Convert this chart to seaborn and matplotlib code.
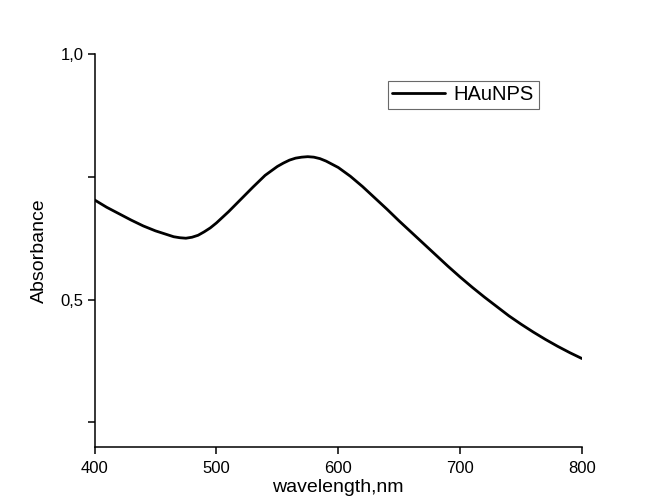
import matplotlib
matplotlib.use("Agg")
import matplotlib.pyplot as plt
import seaborn as sns
import pandas as pd
from matplotlib.ticker import FixedLocator, FuncFormatter

wavelength = [400, 410, 420, 430, 440, 450, 460, 465, 470, 475, 480, 485, 490, 495,
              500, 510, 520, 530, 540, 550, 555, 560, 565, 570, 575, 580, 585, 590,
              600, 610, 620, 630, 640, 650, 660, 670, 680, 690, 700, 710, 720, 730,
              740, 750, 760, 770, 780, 790, 800]
absorbance = [0.703, 0.688, 0.675, 0.662, 0.650, 0.640, 0.632, 0.628, 0.626, 0.625,
              0.627, 0.631, 0.638, 0.646, 0.656, 0.679, 0.704, 0.729, 0.753, 0.771,
              0.778, 0.784, 0.788, 0.790, 0.791, 0.790, 0.787, 0.782, 0.769, 0.751,
              0.730, 0.707, 0.684, 0.660, 0.637, 0.614, 0.591, 0.568, 0.546, 0.525,
              0.505, 0.486, 0.467, 0.450, 0.434, 0.419, 0.405, 0.392, 0.380]
series_name = "HAuNPS"
x_ticks = [400, 500, 600, 700, 800]
y_ticks = [0.25, 0.5, 0.75, 1.0]
y_labels = {0.5: "0,5", 1.0: "1,0"}

df = pd.DataFrame({"wavelength": wavelength, "absorbance": absorbance,
                   "series": series_name})

sns.set_theme(style="ticks")
plt.rcParams["font.family"] = ["Liberation Sans", "DejaVu Sans"]
plt.rcParams["text.color"] = "black"
plt.rcParams["axes.labelcolor"] = "black"

fig = plt.figure(figsize=(6.55, 4.97), dpi=100)
ax = fig.add_axes([94.5 / 655, 1 - 447 / 497, (582 - 94.5) / 655, (447 - 54) / 497])

sns.lineplot(data=df, x="wavelength", y="absorbance", hue="series",
             palette=["black"], linewidth=2.0, ax=ax)
for ln in ax.get_lines():
    ln.set_solid_joinstyle("round")

ax.set_xlim(400, 800)
ax.set_ylim(0.2, 1.0)
ax.xaxis.set_major_locator(FixedLocator(x_ticks))
ax.yaxis.set_major_locator(FixedLocator(y_ticks))
ax.yaxis.set_major_formatter(FuncFormatter(lambda v, p: y_labels.get(round(v, 2), "")))

for s in ["top", "right"]:
    ax.spines[s].set_visible(False)
for s in ["left", "bottom"]:
    ax.spines[s].set_linewidth(1.1)
    ax.spines[s].set_color("black")
ax.tick_params(axis="both", direction="out", length=5, width=1.1, colors="black",
               labelcolor="black", labelsize=12)
ax.tick_params(axis="x", pad=5)
ax.tick_params(axis="y", pad=3)

ax.set_xlabel("wavelength,nm", fontsize=14, labelpad=2, color="black")
ax.set_ylabel("Absorbance", fontsize=14, labelpad=9, color="black")

leg = ax.legend(loc="upper left", bbox_to_anchor=((388 - 94.5) / 487.5, 1 - (81 - 54) / 393),
                frameon=True, fancybox=False, fontsize=14.5, handlelength=2.6,
                borderpad=0.22, handletextpad=0.45, borderaxespad=0)
leg.get_frame().set_edgecolor("#444444")
leg.get_frame().set_linewidth(0.8)
for t in leg.get_texts():
    t.set_color("black")
leg.set_title(None)
# widen the frame's right padding slightly to match reference box
leg._legend_box.sep = 0

fig.canvas.draw()
txt = leg.get_texts()[0]
fig.savefig("out.png", dpi=100, facecolor="white")
